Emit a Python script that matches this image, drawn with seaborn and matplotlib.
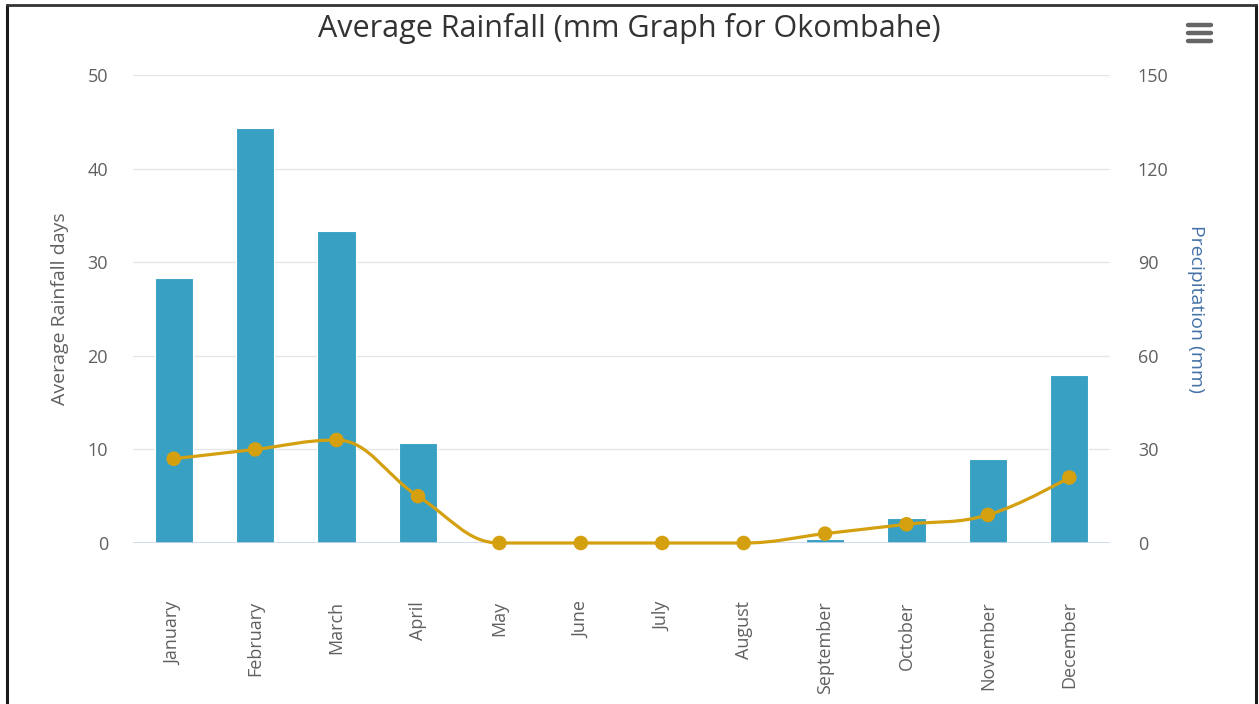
import numpy as np
import pandas as pd
import matplotlib
matplotlib.use("Agg")
import matplotlib.pyplot as plt
from matplotlib.path import Path
from matplotlib.patches import PathPatch
from matplotlib.lines import Line2D
import seaborn as sns

# ---- data ----
months = ["January", "February", "March", "April", "May", "June", "July",
          "August", "September", "October", "November", "December"]
precip_mm = [85, 133, 100, 32, 0, 0, 0, 0, 1.2, 8, 27, 54]
rain_days = [9, 10, 11, 5, 0, 0, 0, 0, 1, 2, 3, 7]
days_ticks = [0, 10, 20, 30, 40, 50]
mm_ticks = [0, 30, 60, 90, 120, 150]

title = "Average Rainfall (mm Graph for Okombahe)"
left_label = "Average Rainfall days"
right_label = "Precipitation (mm)"

BAR = "#38a0c2"
LINE = "#d4a010"
TXT = "#606060"

sns.set_theme(style="white")
plt.rcParams["font.family"] = ["Open Sans", "DejaVu Sans"]

W, H = 1259, 704
fig = plt.figure(figsize=(W / 100, H / 100), dpi=100)
fig.patch.set_facecolor("white")

L, R, T, B = 133, 1110, 75, 543
ax = fig.add_axes([L / W, 1 - B / H, (R - L) / W, (B - T) / H])
ax2 = ax.twinx()

df = pd.DataFrame({"month": months, "mm": precip_mm, "days": rain_days})

# bars on the right (mm) axis
ax2.yaxis.grid(True, color="#e6e6e6", lw=1)
ax2.set_axisbelow(True)
sns.barplot(data=df, x="month", y="mm", ax=ax2, color=BAR, width=0.47,
            edgecolor="white", linewidth=0.8, saturation=1, zorder=3)
ax2.axhline(0, color="#ccd6eb", lw=1.2, zorder=4)
ax2.set_ylim(0, 150)
ax2.set_yticks(mm_ticks)
ax2.set_yticklabels([str(v) for v in mm_ticks])

# smooth (Highcharts-like) spline for the rainfall days on left axis
def spline_path(xs, ys, smoothing=1.5):
    denom = smoothing + 1.0
    n = len(xs)
    left = [None] * n
    right = [None] * n
    for i in range(n):
        px, py = xs[i], ys[i]
        if i == 0 or i == n - 1:
            left[i] = (px, py)
            right[i] = (px, py)
            continue
        lx, ly = xs[i - 1], ys[i - 1]
        nx, ny = xs[i + 1], ys[i + 1]
        lcx = (smoothing * px + lx) / denom
        lcy = (smoothing * py + ly) / denom
        rcx = (smoothing * px + nx) / denom
        rcy = (smoothing * py + ny) / denom
        if rcx != lcx:
            corr = ((rcy - lcy) * (rcx - px)) / (rcx - lcx) + py - rcy
            lcy += corr
            rcy += corr
        if lcy > ly and lcy > py:
            lcy = max(ly, py); rcy = 2 * py - lcy
        elif lcy < ly and lcy < py:
            lcy = min(ly, py); rcy = 2 * py - lcy
        if rcy > ny and rcy > py:
            rcy = max(ny, py); lcy = 2 * py - rcy
        elif rcy < ny and rcy < py:
            rcy = min(ny, py); lcy = 2 * py - rcy
        left[i] = (lcx, lcy)
        right[i] = (rcx, rcy)
    verts = [(xs[0], ys[0])]
    codes = [Path.MOVETO]
    for i in range(1, n):
        verts += [right[i - 1], left[i], (xs[i], ys[i])]
        codes += [Path.CURVE4] * 3
    return Path(verts, codes)

xpos = list(range(len(months)))
ax.add_patch(PathPatch(spline_path(xpos, rain_days), facecolor="none",
                       edgecolor=LINE, lw=2.3, zorder=5, clip_on=False))
sns.scatterplot(x=xpos, y=rain_days, ax=ax, color=LINE, s=110,
                edgecolor="none", zorder=6, legend=False, clip_on=False)

ax.set_zorder(ax2.get_zorder() + 1)
ax.patch.set_visible(False)

ax.set_ylim(0, 50)
ax.set_yticks(days_ticks)
ax.set_yticklabels([str(v) for v in days_ticks])
ax.set_xlim(-0.5, len(months) - 0.5)
ax.set_xticks(xpos)
ax.set_xticklabels(months, rotation=90, ha="center", va="top")
ax.set_xlabel("")
ax2.set_xlabel("")

for a in (ax, ax2):
    for s in a.spines.values():
        s.set_visible(False)

ax.tick_params(axis="x", length=0, pad=42, labelsize=13, labelcolor=TXT)
ax.tick_params(axis="y", length=0, pad=18, labelsize=13, labelcolor=TXT)
ax2.tick_params(axis="y", length=0, pad=20, labelsize=13, labelcolor=TXT)

ax.set_ylabel(left_label, fontsize=14, color=TXT, va="center")
ax.yaxis.set_label_coords((60 - L) / (R - L), 0.5)
ax2.set_ylabel(right_label, fontsize=14, color="#4572a7", rotation=270, va="center")
ax2.yaxis.set_label_coords((1196 - L) / (R - L), 0.5)

fig.text(0.5, 1 - 29 / H, title, ha="center", va="center", fontsize=22, color="#333333")

# hamburger menu icon
for yy in (25, 33, 41):
    fig.add_artist(Line2D([1188 / W, 1211 / W], [1 - yy / H, 1 - yy / H],
                          transform=fig.transFigure, color="#666666", lw=3.2,
                          solid_capstyle="round"))

# frame border
fig.add_artist(Line2D([7 / W, 7 / W], [0, 1 - 5 / H], transform=fig.transFigure,
                      color="#1a1a1a", lw=2.2))
fig.add_artist(Line2D([1256 / W, 1256 / W], [0, 1 - 5 / H], transform=fig.transFigure,
                      color="#1a1a1a", lw=2.2))
fig.add_artist(Line2D([7 / W, 1256 / W], [1 - 5 / H, 1 - 5 / H], transform=fig.transFigure,
                      color="#333333", lw=2.0))

fig.savefig("out.png", dpi=100, facecolor="white")
